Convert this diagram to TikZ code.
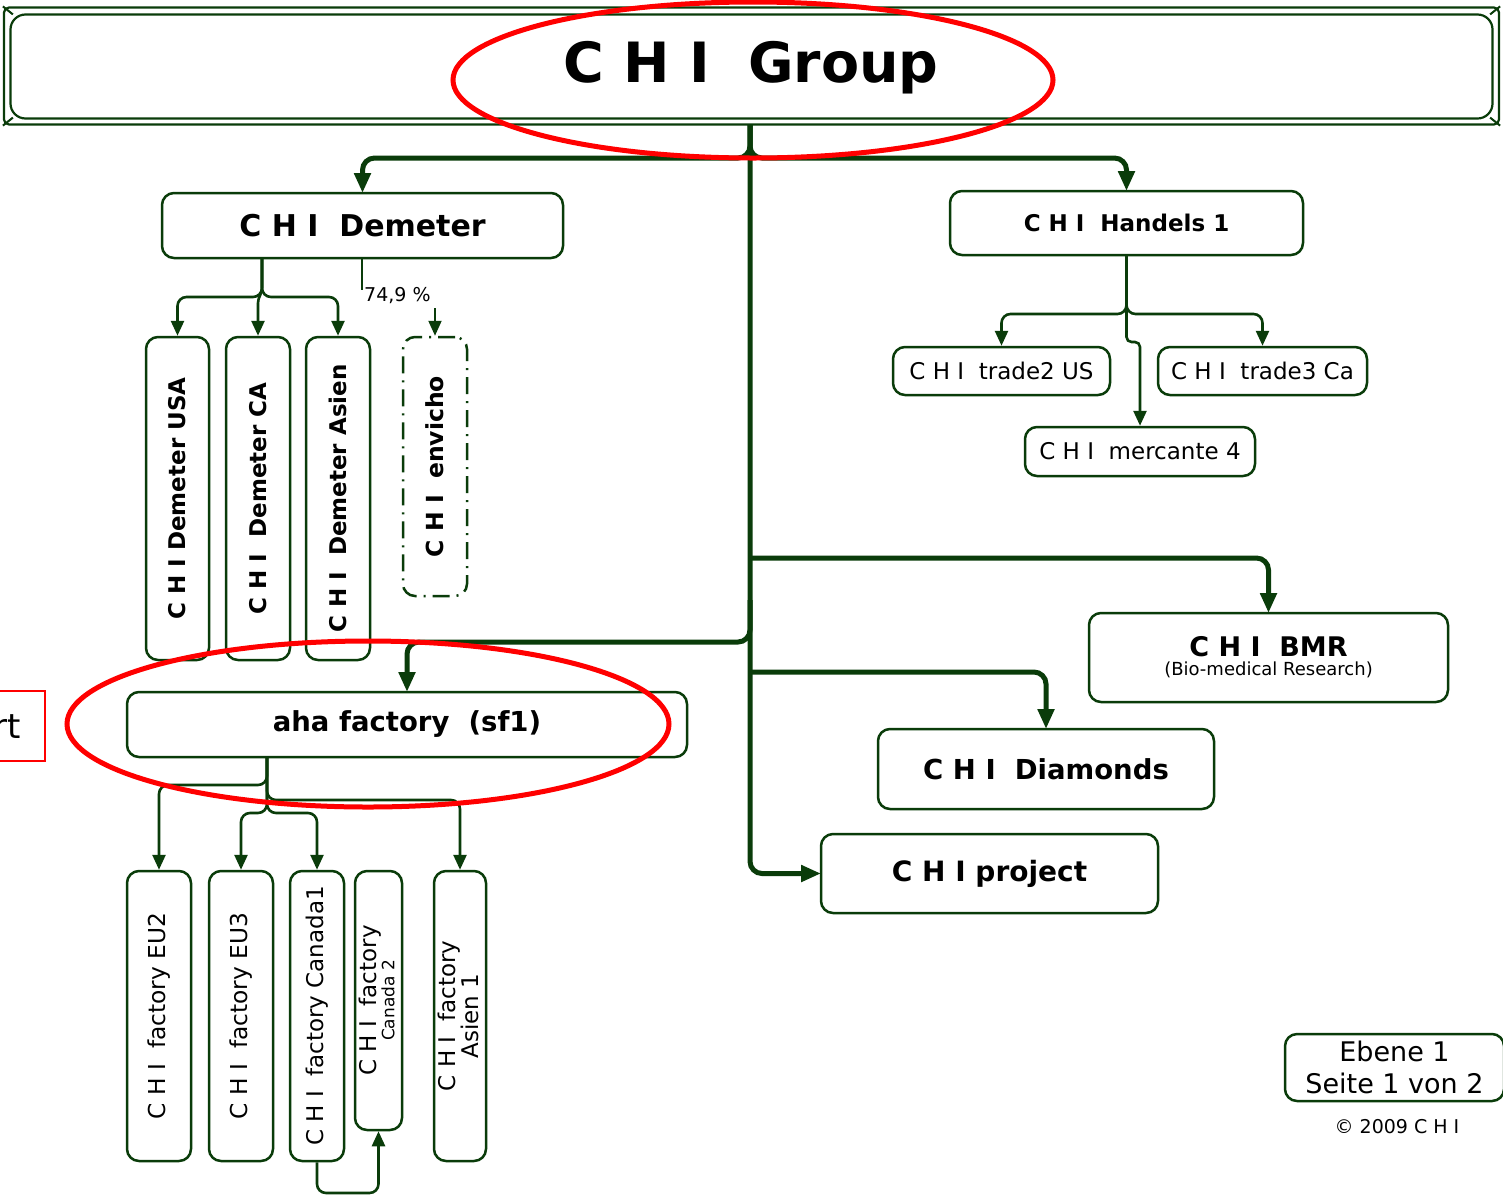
\documentclass[tikz,border=0pt]{standalone}
\usepackage{fontspec}
\usepackage{graphicx}
\setmainfont{DejaVu Sans}
\usetikzlibrary{arrows.meta}
\definecolor{dg}{RGB}{10,60,10}
\newcommand\fsz[2]{\fontsize{#1pt}{#2pt}\selectfont}
\begin{document}
\begin{tikzpicture}[x=1pt,y=-1pt,
 box/.style={draw=dg, line width=2.5pt, rounded corners=12pt, inner sep=0pt, fill=white, align=center},
 tconn/.style={draw=dg, line width=5pt, rounded corners=12pt, -{Triangle[length=20pt,width=16pt]}},
 conn/.style={draw=dg, line width=2.6pt, rounded corners=9pt, -{Triangle[length=15pt,width=13pt]}},
 plainc/.style={draw=dg, line width=2pt},
 frame/.style={draw=dg, line width=2.2pt, inner sep=0pt},
]
\clip (0,0) rectangle (1503,1200);
\fill[white] (0,0) rectangle (1503,1200);

% top frame
\node[frame, rounded corners=5pt, minimum width=1495pt, minimum height=117pt] (topo) at (751.5,66) {};
\node[frame, rounded corners=15pt, minimum width=1482pt, minimum height=104pt] (topi) at (751.5,66.5) {};
\draw[plainc] (topo.north west) -- ++(10,8);
\draw[plainc] (topo.south west) -- ++(10,-8);
\draw[plainc] (topo.north east) -- ++(-10,8);
\draw[plainc] (topo.south east) -- ++(-10,-8);
\node (title) at (751,68) {\fsz{55.5}{64}\bfseries C H I\ \ Group};
\coordinate (t0) at (750,124);

% trunk connectors
\draw[tconn] (t0) -- (750,158) -- (362.5,158) -- (362.5,193);
\draw[tconn] (t0) -- (750,158) -- (1126.5,158) -- (1126.5,191);
\draw[tconn] (t0) -- (750,873.5) -- (821,873.5);
\coordinate (jb) at (750,558);
\coordinate (jd) at (750,672);
\coordinate (ja) at (750,600);
\draw[tconn] (jb) -- (1268.5,558) -- (1268.5,613);
\draw[tconn] (jd) -- (1046,672) -- (1046,729);
\draw[tconn] (ja) -- (750,642) -- (407,642) -- (407,692);

% boxes
\node[box, minimum width=401pt, minimum height=65pt] (dem) at (362.5,225.5) {\fsz{30}{36}\bfseries C H I\ \ Demeter};
\node[box, minimum width=353pt, minimum height=64pt] (hnd) at (1126.5,223) {\fsz{23}{28}\bfseries C H I\ \ Handels 1};
\node[box, minimum width=217pt, minimum height=48pt] (tr2) at (1001.5,371) {\fsz{23}{28}C H I\ \ trade2 US};
\node[box, minimum width=209pt, minimum height=48pt] (tr3) at (1262.5,371) {\fsz{23}{28}C H I\ \ trade3 Ca};
\node[box, minimum width=230pt, minimum height=49pt] (mer) at (1140,451.5) {\fsz{23}{28}C H I\ \ mercante 4};

\node[box, minimum width=63pt, minimum height=323pt] (usa) at (177.5,498.5) {\rotatebox{90}{\fsz{23}{28}\bfseries C H I Demeter USA}};
\node[box, minimum width=64pt, minimum height=323pt] (ca) at (258,498.5) {\rotatebox{90}{\fsz{23}{28}\bfseries C H I\ \ Demeter CA}};
\node[box, minimum width=64pt, minimum height=323pt] (asi) at (338,498.5) {\rotatebox{90}{\fsz{23}{28}\bfseries C H I\ \ Demeter Asien}};
\node[box, dash pattern=on 17pt off 7pt on 2pt off 7pt, minimum width=64pt, minimum height=259pt] (env) at (435,466.5) {\rotatebox{90}{\fsz{23.5}{28}\bfseries C H I\ \ envicho}};

\node[box, minimum width=359pt, minimum height=89pt] (bmr) at (1268.5,657.5) {\fsz{27}{24}\bfseries C H I\ \ BMR\\[4pt]\fsz{18}{22}(Bio-medical Research)};
\node[box, minimum width=336pt, minimum height=80pt] (dia) at (1046,769) {\fsz{27.5}{32}\bfseries C H I\ \ Diamonds};
\node[box, minimum width=337pt, minimum height=79pt] (proj) at (989.5,873.5) {\fsz{28}{32}\bfseries C H I project};
\node[box, minimum width=560pt, minimum height=65pt] (aha) at (407,724.5) {\fsz{27.5}{32}\bfseries aha factory\ \ (sf1)};

\node[box, minimum width=64pt, minimum height=290pt] (eu2) at (159,1016) {\rotatebox{90}{\fsz{23.3}{28}C H I\ \ factory EU2}};
\node[box, minimum width=64pt, minimum height=290pt] (eu3) at (241,1016) {\rotatebox{90}{\fsz{23.3}{28}C H I\ \ factory EU3}};
\node[box, minimum width=54pt, minimum height=290pt] (can1) at (317,1016) {\rotatebox{90}{\fsz{23}{28}C H I\ \ factory Canada1}};
\node[box, minimum width=47pt, minimum height=259pt] (can2) at (378.5,1000.5) {\rotatebox{90}{\begin{tabular}{@{}c@{}}\fsz{23}{20}C H I\ \ factory\\\fsz{17}{16}Canada 2\end{tabular}}};
\node[box, minimum width=52pt, minimum height=290pt] (as1) at (460,1016) {\rotatebox{90}{\begin{tabular}{@{}c@{}}\fsz{23}{21}C H I\ \ factory\\\fsz{23}{21}Asien 1\end{tabular}}};

% Demeter children
\coordinate (d0) at (262,258);
\draw[conn] (d0) -- (262,297) -- (177.5,297) -- (usa.north);
\draw[conn] (d0) -- (262,297) -- (338,297) -- (asi.north);
\draw[conn, rounded corners=4pt] (d0) -- (262,292) -- (258,299) -- (ca.north);
\coordinate (d1) at (362,258);
\draw[plainc] (d1) -- (362,290);
\node[anchor=west, inner sep=0pt] (pct) at (364,296) {\fsz{19}{22}74,9 \%};
\draw[conn, line width=2pt] (pct.south -| env.north) ++(0,4) -- (env.north);

% Handels children
\draw[conn] (hnd.south) -- (1126.5,314) -- (1001.5,314) -- (tr2.north);
\draw[conn] (hnd.south) -- (1126.5,314) -- (1262.5,314) -- (tr3.north);
\draw[conn, rounded corners=5pt] (hnd.south) -- (1126.5,342) -- (1140,342) -- (mer.north);

% aha children
\coordinate (a0) at (267,757);
\draw[conn] (a0) -- (267,785) -- (159,785) -- (eu2.north);
\draw[conn] (a0) -- (267,800) -- (460,800) -- (as1.north);
\draw[conn] (a0) -- (267,813) -- (241,813) -- (eu3.north);
\draw[conn] (a0) -- (267,813) -- (317,813) -- (can1.north);
\draw[conn] (can1.south) -- (317,1193) -- (378.5,1193) -- (can2.south);

% footer
\node[box, minimum width=219pt, minimum height=67pt, font=\fsz{27}{32}] (ebene) at (1394.5,1067.5) {Ebene 1\\Seite 1 von 2};
\node (copy) at (1397,1127) {\fsz{19}{22}© 2009 C H I};

% red marks
\draw[red, line width=5pt] (753,80) ellipse [x radius=300pt, y radius=78pt];
\draw[red, line width=5pt] (368,724) ellipse [x radius=301pt, y radius=83pt];
\node[draw=red, line width=1.5pt, minimum width=90pt, minimum height=70pt, inner sep=0pt] (left) at (0,726) {};
\node[anchor=east, inner sep=0pt] (lt) at (21,727) {\fsz{34}{40}rt};
\end{tikzpicture}
\end{document}
